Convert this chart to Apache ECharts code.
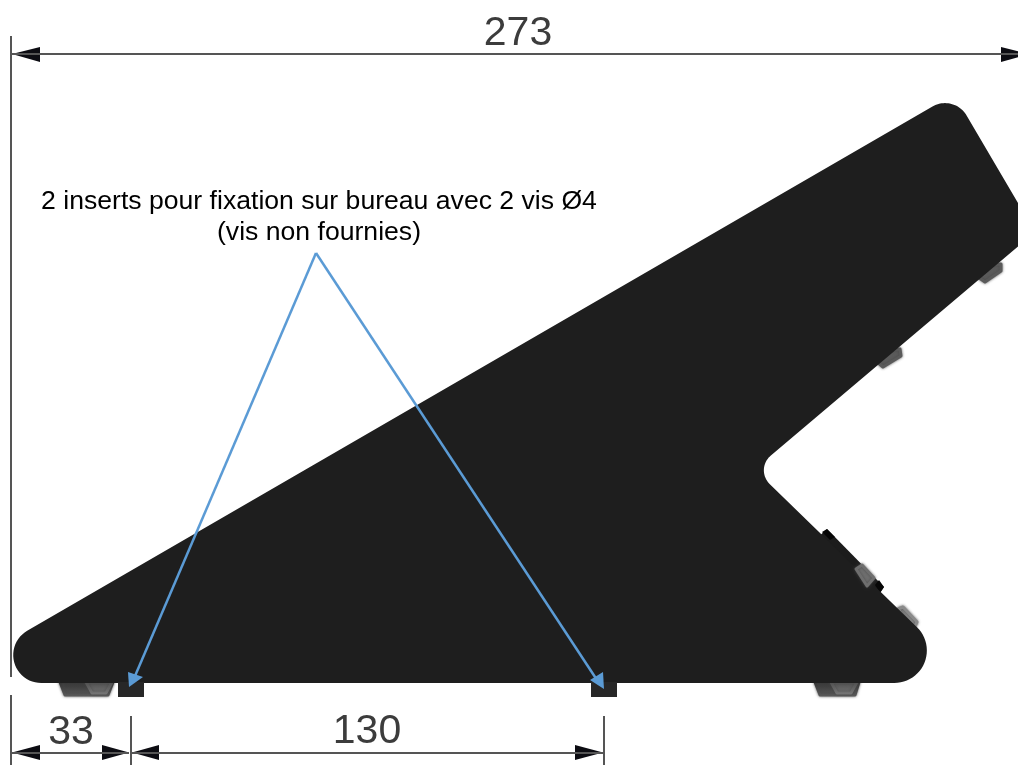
<!DOCTYPE html>
<html><head><meta charset="utf-8">
<style>html,body{margin:0;padding:0;background:#fff}#c{width:1018px;height:765px}</style>
<script src="https://cdn.jsdelivr.net/npm/echarts@6/dist/echarts.min.js"></script>
</head><body><div id="c"></div>
<script>
// All coordinates are axis values on a 0..1018 / 0..765 drawing scale.
const bodyOutline = [[-63,683,28],[954,94,25],[1035,232,0],[754.6,469.3,19],[974.4,683,32.5]];
const insertLeft = [[118,682],[144,682],[144,697],[118,697]];
const insertRight = [[591,682],[617,682],[617,697],[591,697]];
const footLeft = [[60,682],[65,695],[108,695],[113,682]];
const footLeftCap = [[86,682],[92,693],[106,693],[112,682]];
const footRight = [[815,682],[820,695],[855,695],[859,682]];
const footRightCap = [[831,682],[837,693],[851,693],[857,682]];
const knobUpper = [[975,275],[985,282],[1001,271],[1001,264],[990,265]];
const knobLower = [[875,360],[883,367],[901,356],[900,349],[890,350]];
const connector = [[827,529],[884,587],[875,600],[815,540]];
const connectorEndA = [[822,532],[827,529],[835,537],[830,540]];
const connectorEndB = [[875,585],[879,580],[884,587],[880,593]];
const knobSideA = [[856,569],[862,565],[874,578],[867,586]];
const knobSideB = [[898,609],[903,607],[917,622],[913,630]];
const arrowTopLeft = [[12,54],[40,47],[40,62]];
const arrowTopRight = [[1029,54],[1001,47],[1001,62]];
const arrowDimA = [[12,752.5],[40,745],[40,760]];
const arrowDimB = [[129,752.5],[102,745],[102,760]];
const arrowDimC = [[132,752.5],[159,745],[159,760]];
const arrowDimD = [[603,752.5],[575,745],[575,760]];
const arrowBlueLeft = [[129,687],[128,672],[143,677]];
const arrowBlueRight = [[604,689],[590,680],[603,672]];
const dimensionLines = [
  [[11,36],[11,677]],[[11,695],[11,765]],[[131,716],[131,765]],[[604,716],[604,765]],
  [[11,54],[1018,54]],[[12,752.5],[129,752.5]],[[131,752.5],[603,752.5]]
];
const leaderLines = [[[316,253],[135,676]],[[316,253],[597,680]]];
const dimensionLabels = [[518,34,'273'],[71,733,'33'],[367,732,'130']];
const noteLabels = [[319,201.5,'2 inserts pour fixation sur bureau avec 2 vis Ø4'],[319,232.5,'(vis non fournies)']];

const bodyColor='#1e1e1e', dimColor='#555555', blue='#5b9bd5';
const grad=(a,b)=>new echarts.graphic.LinearGradient(0,0,0,1,[{offset:0,color:a},{offset:1,color:b}]);
const shapes=[
 [footLeft,grad('#303030','#5a5a5a'),false,1],[footLeftCap,grad('#4a4a4a','#767676'),false,1],
 [footRight,grad('#303030','#5a5a5a'),false,1],[footRightCap,grad('#4a4a4a','#767676'),false,1],
 [knobUpper,'#5a5a5a',false,1],[knobLower,'#5a5a5a',false,1],
 [connector,'#1c1c1c'],[connectorEndA,'#060606'],[connectorEndB,'#060606'],
 [knobSideB,'#8a8a8a',false,1],
 [bodyOutline,bodyColor,true],
 [knobSideA,'#6e6e6e',false,1],
 [insertLeft,'#272727'],[insertRight,'#272727'],
 [arrowTopLeft,'#0c0c12'],[arrowTopRight,'#0c0c12'],[arrowDimA,'#0c0c12'],[arrowDimB,'#0c0c12'],[arrowDimC,'#0c0c12'],[arrowDimD,'#0c0c12']
];
function fillet(v){
  const out=[],n=v.length;
  for(let i=0;i<n;i++){
    const P=v[i],A=v[(i+n-1)%n],B=v[(i+1)%n],r=v[i][2];
    if(!r){out.push([P[0],P[1]]);continue;}
    let ux=A[0]-P[0],uy=A[1]-P[1],wx=B[0]-P[0],wy=B[1]-P[1];
    const lu=Math.hypot(ux,uy),lw=Math.hypot(wx,wy);ux/=lu;uy/=lu;wx/=lw;wy/=lw;
    const th=Math.acos(ux*wx+uy*wy),t=r/Math.tan(th/2),d=r/Math.sin(th/2);
    let bx=ux+wx,by=uy+wy;const lb=Math.hypot(bx,by);bx/=lb;by/=lb;
    const cx=P[0]+bx*d,cy=P[1]+by*d;
    const a0=Math.atan2(P[1]+uy*t-cy,P[0]+ux*t-cx);
    let a1=Math.atan2(P[1]+wy*t-cy,P[0]+wx*t-cx),da=a1-a0;
    while(da>Math.PI)da-=2*Math.PI;while(da<-Math.PI)da+=2*Math.PI;
    for(let k=0;k<=24;k++){const a=a0+da*k/24;out.push([cx+r*Math.cos(a),cy+r*Math.sin(a)]);}
  }
  return out;
}
const chart=echarts.init(document.getElementById('c'),null,{renderer:'canvas'});
const blueShapes=[arrowBlueLeft,arrowBlueRight];
const poly=(list)=>function(params,api){
  const s=list[params.dataIndex];
  const pts=(s[2]?fillet(s[0]):s[0]).map(p=>api.coord([p[0],p[1]]));
  const style={fill:s[1]};
  if(s[3]){style.stroke=s[1];style.lineWidth=3;style.lineJoin='round';style.shadowBlur=3;style.shadowColor='rgba(70,70,70,0.8)';}
  return {type:'polygon',shape:{points:pts},style};
};
const font='"Liberation Sans",Arial,sans-serif';
chart.setOption({
  animation:false,backgroundColor:'#fff',
  grid:{left:0,right:0,top:0,bottom:0},
  xAxis:{type:'value',min:0,max:1018,show:false},
  yAxis:{type:'value',min:0,max:765,inverse:true,show:false},
  tooltip:{show:false},
  series:[
   {type:'custom',silent:true,z:2,clip:false,coordinateSystem:'cartesian2d',renderItem:poly(shapes),data:shapes.map((_,i)=>[i])},
   {type:'lines',silent:true,z:3,coordinateSystem:'cartesian2d',polyline:false,lineStyle:{color:dimColor,width:2,opacity:1},
    data:dimensionLines.map(c=>({coords:c}))},
   {type:'lines',silent:true,z:5,coordinateSystem:'cartesian2d',polyline:false,lineStyle:{color:blue,width:2.5,opacity:1},
    data:leaderLines.map(c=>({coords:c}))},
   {type:'custom',silent:true,z:6,clip:false,coordinateSystem:'cartesian2d',renderItem:poly(blueShapes.map(b=>[b,blue])),data:blueShapes.map((_,i)=>[i])},
   {type:'scatter',silent:true,z:7,symbolSize:1,itemStyle:{opacity:0},data:dimensionLabels.map(d=>({value:[d[0],d[1]],name:d[2]})),
    label:{show:true,position:'inside',opacity:1,formatter:'{b}',fontFamily:font,fontSize:41,color:'#3c3c3c'}},
   {type:'scatter',silent:true,z:7,symbolSize:1,itemStyle:{opacity:0},data:noteLabels.map(d=>({value:[d[0],d[1]],name:d[2]})),
    label:{show:true,position:'inside',opacity:1,formatter:'{b}',fontFamily:font,fontSize:26.6,color:'#000'}}
  ]
});
</script></body></html>
